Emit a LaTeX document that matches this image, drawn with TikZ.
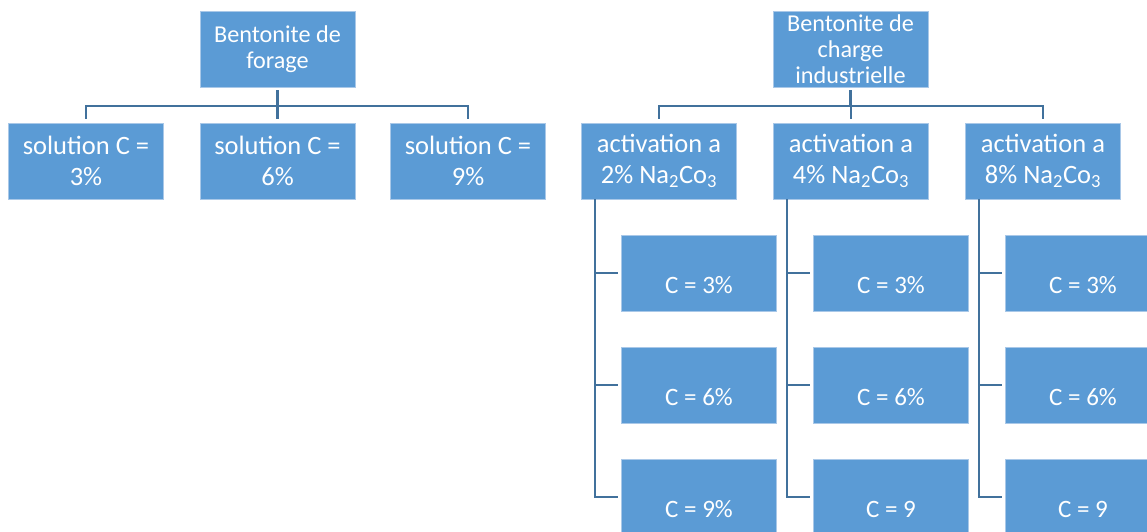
\documentclass[tikz,border=0pt]{standalone}
\usepackage{fontspec}
\setmainfont{Carlito}
\definecolor{boxblue}{HTML}{5B9BD5}
\definecolor{boxedge}{HTML}{A9C8E8}
\definecolor{linkblue}{HTML}{41719C}
\tikzset{
  box/.style={fill=boxblue, draw=boxedge, line width=0.6pt, text=white,
    minimum width=155pt, minimum height=76pt, inner sep=0pt, align=center},
  rootbox/.style={box, font=\fontsize{24.2}{26}\selectfont},
  midbox/.style={box, font=\fontsize{26.5}{30.5}\selectfont},
  leafbox/.style={box, font=\fontsize{25}{29}\selectfont},
  link/.style={draw=linkblue, line width=2.2pt},
}
\newcommand{\leaftext}[1]{\raisebox{-20pt}[0pt][0pt]{#1}}
\newcommand{\soda}{Na\textsubscript{2}Co\textsubscript{3}}
\begin{document}
\begin{tikzpicture}[x=1pt,y=-1pt]
\useasboundingbox (0,0) rectangle (1147,531);

% left tree: drilling bentonite
\node[rootbox] (r1) at (277.5,49) {Bentonite de\\forage};
\node[midbox] (s1) at (86,161) {solution C =\\3\%};
\node[midbox] (s2) at (277.5,161) {solution C =\\6\%};
\node[midbox] (s3) at (468,161) {solution C =\\9\%};
\foreach \c in {s1,s2,s3}
  \draw[link, shorten <=3pt, shorten >=4pt] (r1.south) -- ++(0,19) -| (\c.north);

% right tree: industrial filler bentonite
\node[rootbox] (r2) at (850.5,49) {Bentonite de\\charge\\industrielle};
\node[midbox] (a1) at (659,161) {activation a\\2\% \soda};
\node[midbox] (a2) at (851,161) {activation a\\4\% \soda};
\node[midbox] (a3) at (1043,161) {activation a\\8\% \soda};
\foreach \c in {a1,a2,a3}
  \draw[link, shorten <=3pt, shorten >=4pt] (r2.south) -- ++(0,19) -| (\c.north);

% concentrations under each activation
\foreach \c/\x/\lastlabel in {a1/699/{C = 9\%}, a2/891/{C = 9}, a3/1083/{C = 9}} {
  \node[leafbox] (\c-g1) at (\x,273) {\leaftext{C = 3\%}};
  \node[leafbox] (\c-g2) at (\x,385) {\leaftext{C = 6\%}};
  \node[leafbox] (\c-g3) at (\x,497) {\leaftext{\lastlabel}};
  \foreach \g in {g1,g2,g3}
    \draw[link, shorten >=3pt] ([xshift=14pt]\c.south west) |- (\c-\g.west);
}
\end{tikzpicture}
\end{document}
